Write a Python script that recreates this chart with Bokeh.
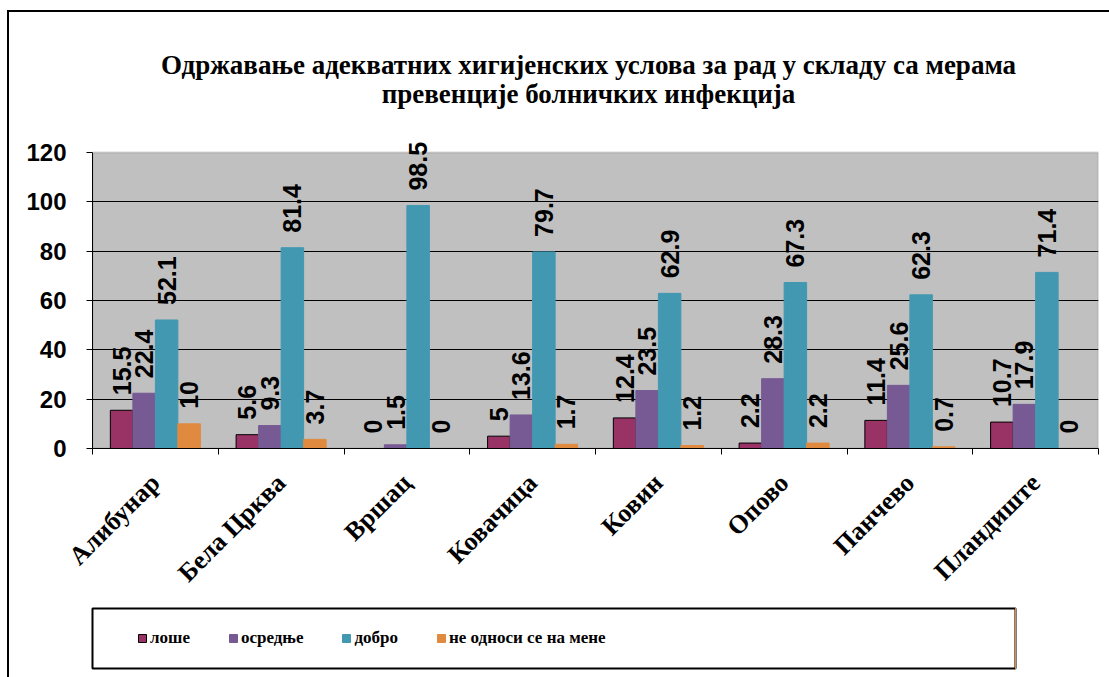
import math
from bokeh.plotting import figure
from bokeh.layouts import column
from bokeh.models import (Range1d, FixedTicker, BoxAnnotation, LabelSet, Label,
                          ColumnDataSource, Legend, LegendItem)
from bokeh.core.properties import value
from bokeh.embed import file_html
from bokeh.resources import INLINE

# ---------------- data ----------------
categories = ["Алибунар", "Бела Црква", "Вршац", "Ковачица", "Ковин",
              "Опово", "Панчево", "Пландиште"]
series_names = ["лоше", "осредње", "добро", "не односи се на мене"]
lose = [15.5, 5.6, 0, 5, 12.4, 2.2, 11.4, 10.7]
osrednje = [22.4, 9.3, 1.5, 13.6, 23.5, 28.3, 25.6, 17.9]
dobro = [52.1, 81.4, 98.5, 79.7, 62.9, 67.3, 62.3, 71.4]
ne_odnosi = [10, 3.7, 0, 1.7, 1.2, 2.2, 0.7, 0]
y_ticks = [0, 20, 40, 60, 80, 100, 120]
y_max = 120
title_lines = ["Одржавање адекватних хигијенских услова за рад у складу са мерама",
               "превенције болничких инфекција"]

series_values = [lose, osrednje, dobro, ne_odnosi]
colors = ["#993366", "#775A94", "#4398B1", "#E08A40"]
outlines = ["black", None, None, None]

SERIF = "Liberation Serif"
SANS = "Liberation Sans"

n = len(categories)

# ---------------- page geometry (pixels) ----------------
ORIG_Y = 12            # content starts below the chart's top border
AREA_LEFT, AREA_RIGHT = 92, 1098
AREA_TOP, AREA_BOTTOM = 152, 448
px_per_unit = (AREA_BOTTOM - AREA_TOP) / y_max
px_per_cat = (AREA_RIGHT - AREA_LEFT) / n


def page_y(py):
    return (AREA_BOTTOM - py) / px_per_unit


def page_x(px):
    return (px - AREA_LEFT) / px_per_cat


p = figure(width=1100, height=594, output_backend="svg", toolbar_location=None,
           x_range=Range1d(0, n),
           y_range=Range1d(0, page_y(ORIG_Y)),
           min_border_left=83, min_border_top=0, min_border_right=11,
           min_border_bottom=158, frame_align=False)

p.background_fill_color = "white"
p.border_fill_color = "white"
p.outline_line_color = None

# plot area (gray) with gray border
p.add_layout(BoxAnnotation(left=0, right=n, bottom=0, top=y_max,
                           fill_color="#C0C0C0", fill_alpha=1,
                           line_color="#808080", line_width=2, level="image"))

# title: two centred lines
for line, baseline_py in zip(title_lines, [64, 93]):
    p.add_layout(Label(x=page_x(588), y=page_y(baseline_py), text=line,
                       text_align="center", text_baseline="alphabetic",
                       text_font=SERIF, text_font_style="bold",
                       text_font_size="27px", text_color="black"))

# grid
p.xgrid.grid_line_color = None
p.ygrid.grid_line_color = "black"
p.ygrid.grid_line_width = 1
p.ygrid.ticker = FixedTicker(ticks=[t for t in y_ticks if 0 < t < y_max])

# y axis
p.yaxis.ticker = FixedTicker(ticks=y_ticks)
p.yaxis.bounds = (0, y_max)
p.yaxis.axis_line_color = "black"
p.yaxis.major_tick_in = 0
p.yaxis.major_tick_out = 6
p.yaxis.minor_tick_line_color = None
p.yaxis.major_label_standoff = 20
p.yaxis.major_label_text_font = SANS
p.yaxis.major_label_text_font_style = "bold"
p.yaxis.major_label_text_font_size = "24px"
p.yaxis.major_label_text_color = "black"

# x axis: labels at category centres, ticks at category boundaries
centers = [i + 0.5 for i in range(n)]
boundaries = list(range(n + 1))
p.xaxis.ticker = FixedTicker(ticks=centers, minor_ticks=boundaries)
p.xaxis.major_label_overrides = {c: name for c, name in zip(centers, categories)}
p.xaxis.major_tick_line_color = None
p.xaxis.minor_tick_in = 0
p.xaxis.minor_tick_out = 6
p.xaxis.minor_tick_line_color = "black"
p.xaxis.axis_line_color = "black"
p.xaxis.major_label_orientation = math.pi / 4
p.xaxis.major_label_standoff = 24
p.xaxis.major_label_text_font = SERIF
p.xaxis.major_label_text_font_style = "bold"
p.xaxis.major_label_text_font_size = "26px"
p.xaxis.major_label_text_color = "black"

# bars + value labels
bw = 0.179
offsets = [(-1.5 + k) * bw for k in range(4)]
for k, (name, vals) in enumerate(zip(series_names, series_values)):
    xs = [c + offsets[k] for c in centers]
    src = ColumnDataSource(dict(x=xs, top=vals,
                                label=[("%g" % v) for v in vals]))
    p.vbar(x="x", top="top", width=bw, source=src,
           fill_color=colors[k],
           line_color=outlines[k] if outlines[k] else colors[k],
           line_width=1)
    p.add_layout(LabelSet(x="x", y="top", text="label", source=src,
                          angle=math.pi / 2, text_align="left",
                          text_baseline="middle", y_offset=15,
                          text_font=value(SANS), text_font_style="bold",
                          text_font_size="25px", text_color="black"))

# ---------------- legend panel ----------------
# the legend lives in its own small figure whose frame is the legend box;
# its renderers repeat the series but lie outside the visible x range
pl = figure(width=1100, height=71, output_backend="svg", toolbar_location=None,
            x_range=Range1d(-3, -2), y_range=Range1d(0, 1),
            min_border_left=83, min_border_right=94, min_border_top=2,
            min_border_bottom=9, frame_align=False)
pl.xaxis.visible = False
pl.yaxis.visible = False
pl.grid.visible = False
pl.background_fill_color = "white"
pl.border_fill_color = "white"
pl.outline_line_color = "black"
pl.outline_line_width = 2

items = []
for k, (name, vals) in enumerate(zip(series_names, series_values)):
    r = pl.vbar(x=centers, top=vals, width=bw, fill_color=colors[k],
                line_color=outlines[k] if outlines[k] else colors[k])
    items.append(LegendItem(label=name, renderers=[r]))

lg = Legend(items=items, orientation="horizontal", location=(45, 20),
            padding=0, spacing=38, glyph_width=10, glyph_height=10,
            label_standoff=3, label_text_font=SERIF,
            label_text_font_style="bold", label_text_font_size="17px",
            label_text_color="black",
            border_line_color=None, background_fill_alpha=0)
pl.add_layout(lg, "center")

layout = column(p, pl, spacing=0, margin=(10, 0, 0, 7),
                styles={"border-left": "2px solid black",
                        "border-top": "2px solid black"})

open("out.html", "w").write(file_html(layout, INLINE))
